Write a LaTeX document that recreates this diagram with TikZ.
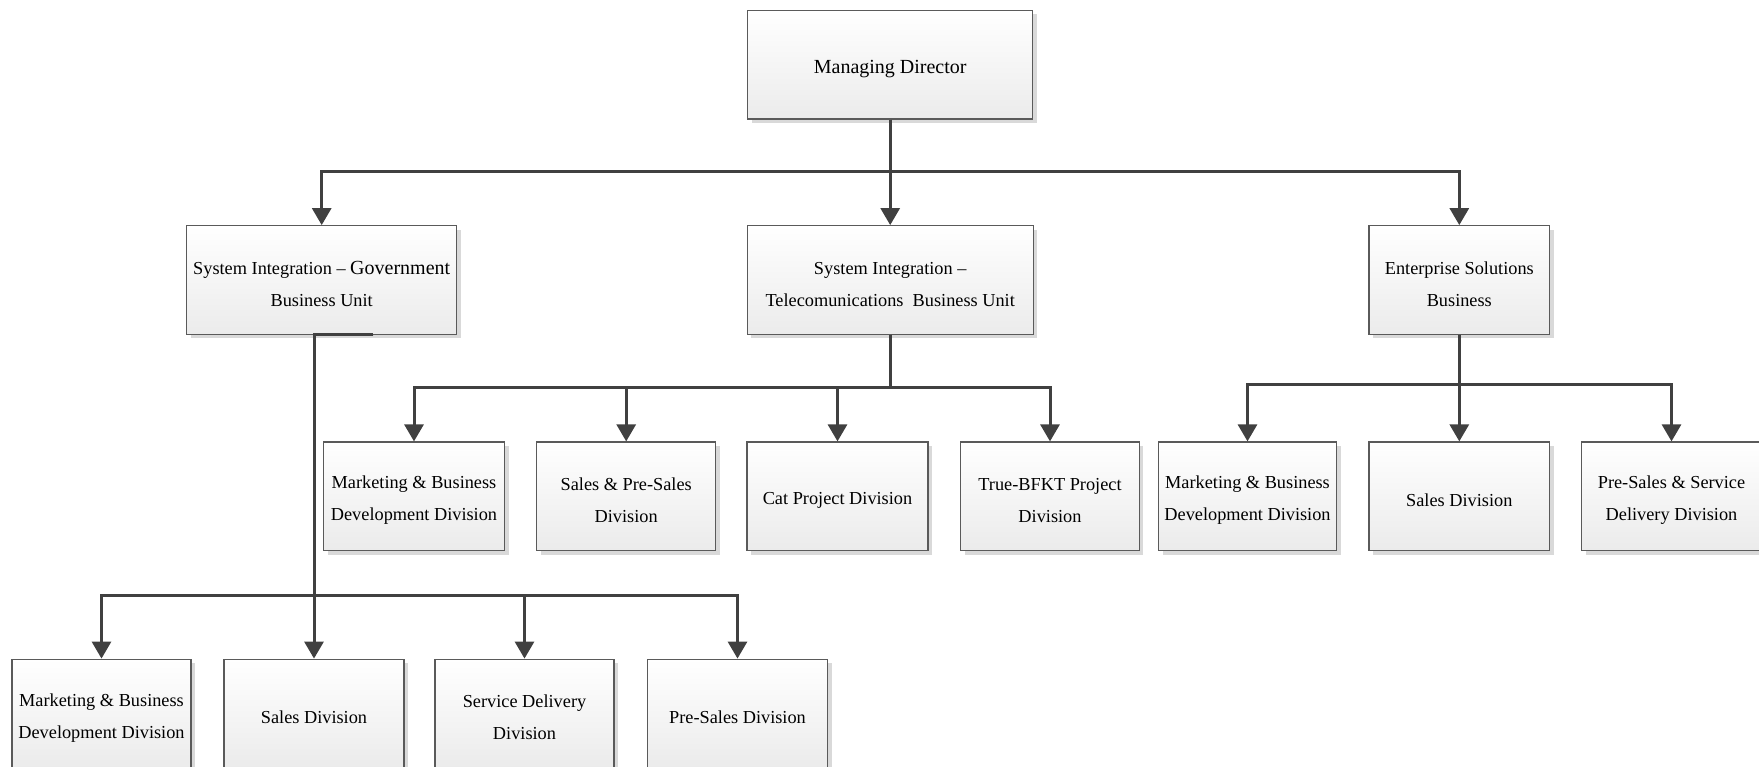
\documentclass[tikz,border=0pt]{standalone}
\usepackage{fontspec}
\setmainfont{Liberation Serif}
\usetikzlibrary{arrows.meta,shadows}
\definecolor{linec}{HTML}{404040}
\definecolor{boxline}{HTML}{5A5A5A}
\definecolor{boxbot}{HTML}{EBEBEB}
\definecolor{shadowc}{HTML}{D9D9D9}
\tikzset{
  box/.style={draw=boxline, line width=1.3pt, top color=white, bottom color=boxbot,
    minimum height=108.5pt, inner sep=2pt, align=center,
    font=\fontsize{18.3}{32}\selectfont,
    drop shadow={shadow xshift=4pt, shadow yshift=-4pt, fill=shadowc, opacity=1}},
  boxa/.style={box, execute at begin node={\rule{0pt}{21pt}}},
  boxb/.style={box, execute at begin node={\rule{0pt}{53pt}}},
  conn/.style={draw=linec, line width=3pt},
  arr/.style={conn, -{Triangle[width=19pt,length=17pt]}},
}
\begin{document}
\begin{tikzpicture}[x=1pt,y=-1pt]
\useasboundingbox (0,0) rectangle (1759,767);
% level 1
\node[boxa, minimum width=285pt, font=\fontsize{20}{32}\selectfont] (md) at (890.2,64.7) {Managing Director};
% level 2
\node[boxb, minimum width=270pt] (govt) at (321.7,280) {System Integration – {\fontsize{20}{32}\selectfont Government}\\Business Unit};
\node[boxb, minimum width=286pt] (tel) at (890.2,280) {System Integration –\\Telecomunications\ \ Business Unit};
\node[boxb, minimum width=180.5pt] (ent) at (1459.3,280) {Enterprise Solutions\\Business};
% level 3
\node[boxb, minimum width=181pt] (t1) at (414,496.3) {Marketing \& Business\\Development Division};
\node[boxb, minimum width=179pt] (t2) at (626.2,496.3) {Sales \& Pre-Sales\\Division};
\node[boxa, minimum width=181pt] (t3) at (837.5,496.3) {Cat Project Division};
\node[boxb, minimum width=178.5pt] (t4) at (1050,496.3) {True-BFKT Project\\Division};
\node[boxb, minimum width=178pt] (e1) at (1247.5,496.3) {Marketing \& Business\\Development Division};
\node[boxa, minimum width=180.5pt] (e2) at (1459.3,496.3) {Sales Division};
\node[boxb, minimum width=180pt] (e3) at (1671.5,496.3) {Pre-Sales \& Service\\Delivery Division};
% level 4
\node[boxb, minimum width=179pt] (g1) at (101.5,713.5) {Marketing \& Business\\Development Division};
\node[boxa, minimum width=180pt] (g2) at (314,713.5) {Sales Division};
\node[boxb, minimum width=179pt] (g3) at (524.5,713.5) {Service Delivery\\Division};
\node[boxa, minimum width=180pt] (g4) at (737.5,713.5) {Pre-Sales Division};
% connectors
\coordinate (mdbus) at (890.2,172);
\draw[arr] (md.south) -- (mdbus) -| (govt.north);
\draw[arr] (md.south) -- (tel.north);
\draw[arr] (md.south) -- (mdbus) -| (ent.north);
\coordinate (tbus) at (890.2,387.5);
\draw[arr] (tel.south) -- (tbus) -| (t1.north);
\draw[arr] (tel.south) -- (tbus) -| (t2.north);
\draw[arr] (tel.south) -- (tbus) -| (t3.north);
\draw[arr] (tel.south) -- (tbus) -| (t4.north);
\coordinate (ebus) at (1459.3,384);
\draw[arr] (ent.south) -- (ebus) -| (e1.north);
\draw[arr] (ent.south) -- (e2.north);
\draw[arr] (ent.south) -- (ebus) -| (e3.north);
\coordinate (gstub) at ([xshift=51.3pt]govt.south);
\coordinate (gbus) at (314,595);
\draw[arr] (gstub) -- (gstub -| gbus) -- (gbus) -| (g1.north);
\draw[arr] (gstub) -- (gstub -| gbus) -- (g2.north);
\draw[arr] (gstub) -- (gstub -| gbus) -- (gbus) -| (g3.north);
\draw[arr] (gstub) -- (gstub -| gbus) -- (gbus) -| (g4.north);
\end{tikzpicture}
\end{document}
